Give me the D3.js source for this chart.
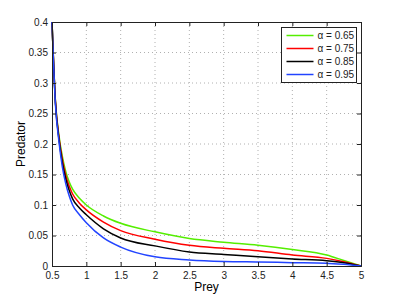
<!DOCTYPE html>
<html>
<head>
<meta charset="utf-8">
<script src="https://cdn.jsdelivr.net/npm/d3@7"></script>
<style>
  body { margin: 0; background: #fff; }
  svg { font-family: "Liberation Sans", Arial, sans-serif; }
</style>
</head>
<body>
<svg width="399" height="300"></svg>
<script>
// ### Data ###
var prey = [0.5, 0.55, 0.6, 0.65, 0.7, 0.75, 0.8, 0.9, 1.0, 1.25, 1.5, 2, 2.5, 3, 3.5, 4, 4.5, 4.75, 5];
var alpha65 = [0.40, 0.27, 0.215, 0.180, 0.155, 0.138, 0.126, 0.111, 0.100, 0.082, 0.070, 0.056, 0.045, 0.039, 0.034, 0.027, 0.018, 0.009, 0];
var alpha75 = [0.40, 0.27, 0.212, 0.175, 0.149, 0.131, 0.118, 0.103, 0.092, 0.072, 0.058, 0.044, 0.034, 0.029, 0.025, 0.018, 0.0125, 0.007, 0];
var alpha85 = [0.40, 0.268, 0.209, 0.170, 0.143, 0.124, 0.110, 0.095, 0.084, 0.061, 0.046, 0.033, 0.023, 0.019, 0.015, 0.0115, 0.0087, 0.0055, 0];
var alpha95 = [0.40, 0.265, 0.205, 0.163, 0.135, 0.115, 0.100, 0.084, 0.071, 0.046, 0.031, 0.015, 0.010, 0.0075, 0.0065, 0.0055, 0.0044, 0.003, 0];
var seriesNames = ['α = 0.65', 'α = 0.75', 'α = 0.85', 'α = 0.95'];
var seriesColors = ['#55ee00', '#ff0000', '#000000', '#2244ff'];
var xTicks = [0.5, 1, 1.5, 2, 2.5, 3, 3.5, 4, 4.5, 5];
var yTicks = [0, 0.05, 0.1, 0.15, 0.2, 0.25, 0.3, 0.35, 0.4];

var series = [alpha65, alpha75, alpha85, alpha95];

// ### Canvas ###
var margin = {top: 22, right: 38, bottom: 34, left: 52};
var width = 399 - margin.left - margin.right;
var height = 300 - margin.top - margin.bottom;

var svg = d3.select('svg');
var g = svg.append('g')
	.attr('transform', `translate(${margin.left},${margin.top})`);

// ### Scales ###
var xScale = d3.scaleLinear().domain([0.5, 5]).range([0, width]);
var yScale = d3.scaleLinear().domain([0, 0.4]).range([height, 0]);

// ### Grid ###
g.append('g')
	.selectAll('line.gx')
	.data(xTicks.slice(1, -1))
	.enter().append('line')
	.attr('x1', d => xScale(d)).attr('x2', d => xScale(d))
	.attr('y1', 0).attr('y2', height)
	.attr('stroke', '#b0b0b0')
	.attr('stroke-dasharray', '1,3');

g.append('g')
	.selectAll('line.gy')
	.data(yTicks.slice(1, -1))
	.enter().append('line')
	.attr('x1', 0).attr('x2', width)
	.attr('y1', d => yScale(d)).attr('y2', d => yScale(d))
	.attr('stroke', '#b0b0b0')
	.attr('stroke-dasharray', '1,3');

// ### Lines ###
var line = d3.line()
	.x((d, i) => xScale(prey[i]))
	.y(d => yScale(d))
	.curve(d3.curveMonotoneX);

g.selectAll('path.series')
	.data(series)
	.enter().append('path')
	.attr('class', 'series')
	.attr('d', d => line(d))
	.attr('fill', 'none')
	.attr('stroke', (d, i) => seriesColors[i])
	.attr('stroke-width', 1.5);

// ### Axes (MATLAB style: ticks inside, box all round) ###
var fmt = d3.format('');
var xAxis = d3.axisBottom(xScale).tickValues(xTicks).tickSize(-4).tickPadding(6).tickFormat(fmt);
var yAxis = d3.axisLeft(yScale).tickValues(yTicks).tickSize(-4).tickPadding(4).tickFormat(fmt);
var xTop = d3.axisTop(xScale).tickValues(xTicks).tickSize(-4).tickFormat('');
var yRight = d3.axisRight(yScale).tickValues(yTicks).tickSize(-4).tickFormat('');

function styleAxis(sel) {
	sel.selectAll('path').attr('stroke', '#222');
	sel.selectAll('line').attr('stroke', '#222');
	sel.selectAll('text').attr('font-size', 10).attr('fill', '#222')
		.attr('font-family', '"Liberation Sans", Arial, sans-serif');
}

g.append('g').attr('transform', `translate(0,${height})`).call(xAxis).call(styleAxis);
g.append('g').call(yAxis).call(styleAxis);
g.append('g').call(xTop).call(styleAxis);
g.append('g').attr('transform', `translate(${width},0)`).call(yRight).call(styleAxis);
g.selectAll('.domain').attr('stroke-width', 1);

// ### Axis labels ###
svg.append('text')
	.attr('x', margin.left + width / 2)
	.attr('y', 291)
	.attr('text-anchor', 'middle')
	.attr('font-size', 12)
	.text('Prey');

svg.append('text')
	.attr('transform', `translate(25,${margin.top + height / 2}) rotate(-90)`)
	.attr('text-anchor', 'middle')
	.attr('font-size', 12)
	.text('Predator');

// ### Legend ###
var legend = g.append('g')
	.attr('transform', `translate(${width - 79.5},5.5)`);

legend.append('rect')
	.attr('x', 0).attr('y', 0)
	.attr('width', 75).attr('height', 55)
	.attr('fill', '#fff')
	.attr('stroke', '#222');

var rows = legend.selectAll('g.row')
	.data(seriesNames)
	.enter().append('g')
	.attr('transform', (d, i) => `translate(0,${8 + i * 13})`);

rows.append('line')
	.attr('x1', 5).attr('x2', 32)
	.attr('y1', 0).attr('y2', 0)
	.attr('stroke', (d, i) => seriesColors[i])
	.attr('stroke-width', 1.5);

rows.append('text')
	.attr('x', 36)
	.attr('y', 3.5)
	.attr('font-size', 10)
	.attr('fill', '#222')
	.text(d => d);
</script>
</body>
</html>
